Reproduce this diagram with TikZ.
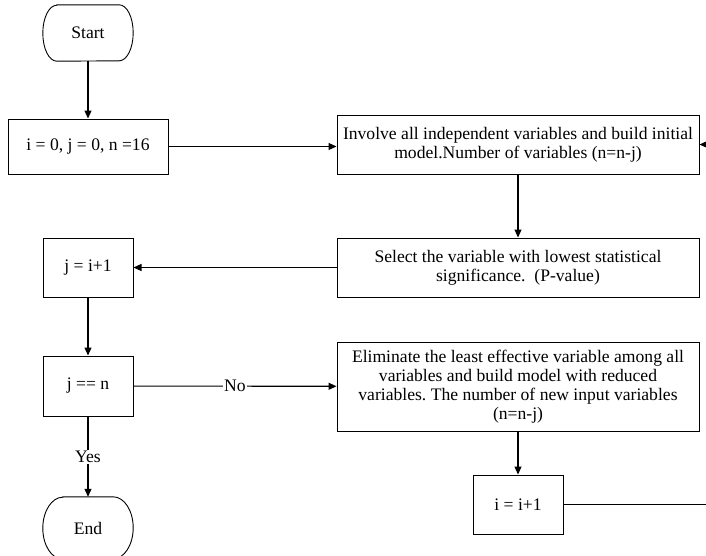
\documentclass[tikz,border=0pt]{standalone}
\usepackage{fontspec}
\setmainfont{Liberation Serif}
\usetikzlibrary{arrows.meta}
\frenchspacing

% outline of a start/end terminal: node, x radius, y radius
\newcommand{\termshape}[3]{%
  \draw[line width=0.9pt] ([xshift=#2]#1.north west) -- ([xshift=-#2]#1.north east)
    arc[start angle=90, end angle=-90, x radius=#2, y radius=#3]
    -- ([xshift=#2]#1.south west)
    arc[start angle=270, end angle=90, x radius=#2, y radius=#3] -- cycle;}

\begin{document}
\begin{tikzpicture}[x=1pt, y=-1pt,
    >={Triangle[length=8pt,width=7pt]},
    every node/.style={font=\fontsize{17.6pt}{19pt}\selectfont},
    line/.style={line width=1.1pt},
    box/.style={draw, line width=1pt, align=center, inner sep=0pt},
    term/.style={inner sep=0pt, minimum width=90pt},
    lbl/.style={fill=white, inner sep=1pt}]
    \useasboundingbox (0,0) rectangle (706,555);

    % Terminals
    \node[term, minimum height=56pt] (start) at (88,33) {Start};
    \termshape{start}{14pt}{28pt}
    \node[term, minimum height=62pt] (stop) at (88,528) {End};
    \termshape{stop}{20pt}{31pt}

    % Left column
    \node[box, minimum width=160pt, minimum height=55pt] (init) at (88,146.5) {i = 0, j = 0, n =16};
    \node[box, minimum width=90pt, minimum height=59pt] (jset) at (88,267.5) {j = i+1};
    \node[box, minimum width=90pt, minimum height=60pt] (jcheck) at (88,386) {j == n};

    % Right column
    \node[box, minimum width=362pt, minimum height=59pt] (involve) at (518,144.5)
        {Involve all independent variables and build initial\\model.Number of variables (n=n-j)};
    \node[box, minimum width=362pt, minimum height=59pt] (select) at (518,267.5)
        {Select the variable with lowest statistical\\significance.~~(P-value)};
    \node[box, minimum width=362pt, minimum height=89pt] (elim) at (518,386.5)
        {Eliminate the least effective variable among all\\variables and build model with reduced\\variables. The number of new input variables\\(n=n-j)};
    \node[box, minimum width=90pt, minimum height=59pt] (iinc) at (518,504.5) {i = i+1};

    % Arrows
    \draw[line,->] (start) -- (init);
    \draw[line,->] (init.east) -- (init.east -| involve.west);
    \draw[line,->] (involve) -- (select);
    \draw[line,->] (select) -- (jset);
    \draw[line,->] (jset) -- (jcheck);
    \draw[line,->] (jcheck) -- node[lbl] {No} (elim);
    \draw[line,->] (jcheck) -- node[lbl] {Yes} (stop.north);
    \draw[line,->] (elim) -- (iinc);
    \draw[line,->] (iinc.east) -- ++(150,0) |- (involve.east);
\end{tikzpicture}
\end{document}
